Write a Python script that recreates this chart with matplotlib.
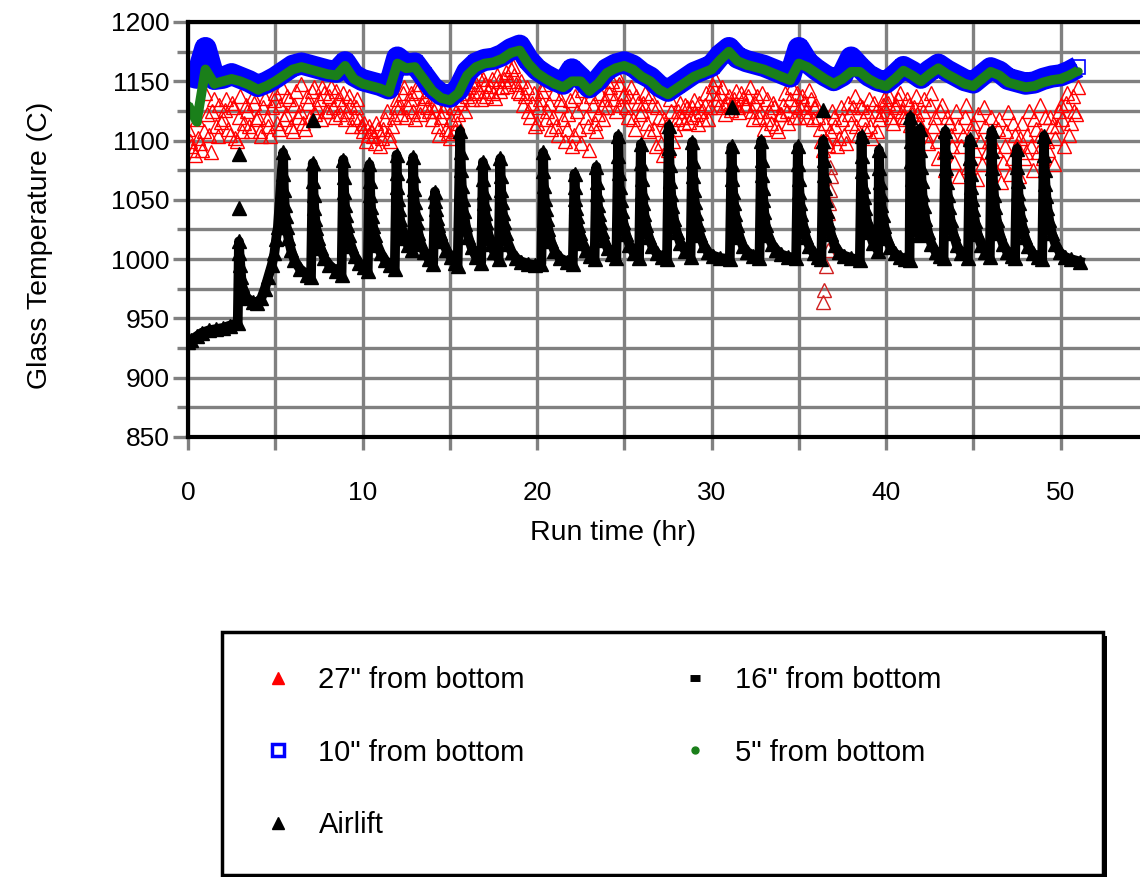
import numpy as np
import matplotlib
matplotlib.use("Agg")
import matplotlib.pyplot as plt
from matplotlib.lines import Line2D
from matplotlib.patches import Rectangle

plt.rcParams['font.family'] = ['Liberation Sans', 'DejaVu Sans']

# 10" and 5" thermocouples, read every 0.5 hr from 0 to 51 hr
upper_step = 0.5
blue_v = [
    1155, 1153, 1178, 1152, 1153, 1156, 1153, 1150, 1146, 1149,
    1153, 1158, 1163, 1165, 1163, 1161, 1159, 1158, 1166, 1155,
    1151, 1149, 1147, 1144, 1170, 1164, 1165, 1155, 1145, 1139,
    1137, 1143, 1158, 1165, 1168, 1169, 1172, 1177, 1180, 1168,
    1160, 1155, 1151, 1148, 1160, 1153, 1145, 1151, 1160, 1164,
    1166, 1163, 1157, 1153, 1146, 1142, 1147, 1152, 1157, 1160,
    1163, 1172, 1178, 1170, 1167, 1165, 1163, 1160, 1157, 1154,
    1178, 1166, 1160, 1155, 1151, 1155, 1170, 1162, 1155, 1151,
    1149, 1155, 1162, 1158, 1153, 1159, 1164, 1159, 1155, 1151,
    1149, 1155, 1161, 1158, 1152, 1150, 1148, 1149, 1152, 1154,
    1155, 1158, 1162,
]
green_v = [
    1130, 1116, 1160, 1148, 1150, 1152, 1150, 1147, 1143, 1146,
    1150, 1155, 1160, 1162, 1160, 1158, 1156, 1155, 1163, 1152,
    1148, 1146, 1144, 1141, 1165, 1161, 1162, 1152, 1142, 1136,
    1134, 1140, 1155, 1162, 1165, 1166, 1169, 1174, 1176, 1165,
    1157, 1152, 1148, 1145, 1150, 1150, 1142, 1148, 1157, 1161,
    1163, 1160, 1154, 1150, 1143, 1139, 1144, 1149, 1154, 1157,
    1160, 1168, 1175, 1167, 1164, 1162, 1160, 1157, 1154, 1151,
    1165, 1162, 1157, 1152, 1148, 1152, 1158, 1158, 1152, 1148,
    1146, 1152, 1159, 1155, 1150, 1156, 1161, 1156, 1152, 1148,
    1146, 1152, 1158, 1155, 1149, 1147, 1145, 1146, 1149, 1151,
    1152, 1155, 1159,
]

# 27" thermocouple, read every 0.2 hr (two interleaved logs)
red_step = 0.2
red_v = [
    1110, 1095, 1088, 1102, 1092, 1140, 1105, 1125, 1112, 1130,
    1118, 1135, 1105, 1128, 1100, 1138, 1115, 1125, 1108, 1132,
    1120, 1104, 1136, 1112, 1128, 1140, 1110, 1145, 1122, 1135,
    1108, 1142, 1125, 1115, 1138, 1120, 1145, 1128, 1118, 1140,
    1125, 1145, 1120, 1135, 1130, 1118, 1138, 1112, 1128, 1118,
    1108, 1100, 1112, 1104, 1115, 1095, 1110, 1125, 1100, 1120,
    1135, 1122, 1145, 1128, 1140, 1118, 1148, 1130, 1138, 1125,
    1118, 1130, 1105, 1125, 1110, 1102, 1128, 1115, 1132, 1140,
    1138, 1150, 1140, 1155, 1135, 1148, 1142, 1152, 1136, 1150,
    1145, 1158, 1150, 1163, 1148, 1140, 1130, 1145, 1120, 1140,
    1115, 1135, 1148, 1125, 1110, 1140, 1105, 1130, 1100, 1122,
    1095, 1138, 1110, 1143, 1120, 1092, 1130, 1108, 1140, 1118,
    1128, 1145, 1135, 1155, 1130, 1140, 1120, 1145, 1110, 1132,
    1125, 1140, 1108, 1130, 1095, 1120, 1088, 1112, 1135, 1100,
    1118, 1132, 1115, 1128, 1120, 1134, 1114, 1125, 1130, 1118,
    1140, 1152, 1128, 1145, 1122, 1138, 1130, 1142, 1124, 1136,
    1130, 1145, 1118, 1138, 1125, 1110, 1135, 1115, 1128, 1108,
    1122, 1140, 1115, 1145, 1130, 1120, 1138, 1125, 1143, 1118,
    1130, 1110, 1092, 1100, 1108, 1120, 1095, 1128, 1105, 1132,
    1115, 1138, 1105, 1128, 1110, 1135, 1102, 1125, 1118, 1130,
    1125, 1138, 1115, 1130, 1140, 1120, 1135, 1113, 1128, 1122,
    1110, 1135, 1098, 1140, 1120, 1085, 1130, 1075, 1115, 1095,
    1125, 1070, 1105, 1130, 1085, 1115, 1068, 1100, 1128, 1090,
    1120, 1078, 1110, 1065, 1095, 1124, 1085, 1105, 1070, 1115,
    1090, 1125, 1075, 1110, 1130, 1085, 1100, 1120, 1080, 1112,
    1130, 1095, 1140, 1115, 1125, 1145,
]
red_v2 = [
    1100, 1092, 1118, 1098, 1108, 1122, 1090, 1135, 1104, 1116,
    1126, 1110, 1132, 1102, 1120, 1108, 1130, 1112, 1138, 1118,
    1108, 1128, 1118, 1104, 1134, 1115, 1130, 1118, 1138, 1112,
    1130, 1120, 1148, 1110, 1132, 1142, 1122, 1135, 1145, 1125,
    1138, 1128, 1142, 1122, 1140, 1125, 1130, 1120, 1135, 1112,
    1115, 1105, 1108, 1098, 1110, 1102, 1118, 1105, 1112, 1128,
    1128, 1140, 1120, 1135, 1125, 1142, 1122, 1136, 1128, 1142,
    1125, 1112, 1120, 1130, 1106, 1118, 1108, 1122, 1135, 1125,
    1145, 1135, 1148, 1142, 1152, 1138, 1146, 1140, 1155, 1142,
    1152, 1146, 1160, 1155, 1142, 1150, 1138, 1125, 1132, 1112,
    1128, 1142, 1118, 1132, 1120, 1112, 1135, 1118, 1110, 1134,
    1105, 1125, 1098, 1132, 1112, 1138, 1115, 1122, 1128, 1135,
    1140, 1150, 1125, 1148, 1138, 1128, 1138, 1118, 1138, 1122,
    1132, 1115, 1138, 1110, 1128, 1098, 1118, 1092, 1125, 1110,
    1125, 1120, 1130, 1116, 1128, 1122, 1132, 1118, 1140, 1128,
    1146, 1135, 1140, 1130, 1132, 1126, 1135, 1128, 1140, 1130,
    1138, 1125, 1132, 1120, 1140, 1118, 1125, 1132, 1112, 1122,
    1130, 1125, 1135, 1120, 1140, 1128, 1132, 1120, 1135, 1128,
    1120, 1100, 1115, 1096, 1125, 1112, 1102, 1118, 1098, 1122,
    1128, 1112, 1130, 1118, 1125, 1112, 1132, 1108, 1122, 1135,
    1132, 1120, 1128, 1135, 1125, 1118, 1130, 1122, 1138, 1115,
    1125, 1105, 1130, 1112, 1100, 1125, 1090, 1120, 1105, 1082,
    1112, 1095, 1120, 1078, 1108, 1092, 1122, 1080, 1112, 1100,
    1100, 1092, 1118, 1082, 1108, 1072, 1115, 1095, 1102, 1085,
    1105, 1095, 1118, 1090, 1105, 1120, 1092, 1112, 1102, 1125,
    1118, 1132, 1105, 1138, 1122,
]
# short drop of the 27" reading near 36.5 hr
red_drop_t = [36.8, 36.85, 36.8, 36.75, 36.65, 36.7, 36.7, 36.55, 36.45, 36.4]
red_drop_v = [1078, 1070, 1058, 1047, 1039, 1022, 1008, 994, 974, 964]

# Airlift: warm-up, then one sawtooth cycle per row
airlift_t = [
    0.0, 0.2, 0.5, 0.8, 1.2, 1.6, 2.0, 2.4, 2.85,
    2.92, 2.95, 3.0, 3.05, 3.1, 3.2, 3.4, 3.7, 3.95, 4.2, 4.4, 4.6, 4.8, 4.95, 5.05, 5.15,
    5.45, 5.47, 5.5, 5.54, 5.59, 5.65, 5.75, 5.9, 6.1, 6.4, 6.8, 7.05,
    7.15, 7.17, 7.2, 7.24, 7.29, 7.35, 7.45, 7.6, 7.8, 8.1, 8.5, 8.8,
    8.9, 8.92, 8.95, 8.99, 9.04, 9.1, 9.2, 9.35, 9.55, 9.8, 10.1, 10.3,
    10.4, 10.42, 10.45, 10.49, 10.54, 10.6, 10.7, 10.85, 11.05, 11.3, 11.6, 11.85,
    11.95, 11.97, 12.0, 12.04, 12.09, 12.15, 12.25, 12.4, 12.6, 12.85,
    12.9, 12.92, 12.95, 12.99, 13.04, 13.1, 13.2, 13.35, 13.55, 13.8, 14.05,
    14.15, 14.18, 14.22, 14.27, 14.34, 14.45, 14.6, 14.8, 15.05, 15.3, 15.45,
    15.6, 15.62, 15.65, 15.69, 15.74, 15.8, 15.9, 16.05, 16.25, 16.5, 16.8,
    16.9, 16.92, 16.95, 16.99, 17.04, 17.1, 17.2, 17.35, 17.55, 17.8,
    17.9, 17.92, 17.95, 17.99, 18.04, 18.1, 18.2, 18.35, 18.55, 18.8, 19.1, 19.5, 19.9, 20.25,
    20.35, 20.37, 20.4, 20.44, 20.49, 20.55, 20.65, 20.8, 21.0, 21.3, 21.7, 22.05,
    22.15, 22.17, 22.2, 22.24, 22.29, 22.35, 22.45, 22.6, 22.8, 23.05, 23.3,
    23.4, 23.42, 23.45, 23.49, 23.54, 23.6, 23.7, 23.85, 24.05, 24.3, 24.55,
    24.65, 24.67, 24.7, 24.74, 24.79, 24.85, 24.95, 25.1, 25.3, 25.55, 25.85,
    25.95, 25.97, 26.0, 26.04, 26.09, 26.15, 26.25, 26.4, 26.6, 26.85, 27.15, 27.45,
    27.55, 27.57, 27.6, 27.64, 27.69, 27.75, 27.85, 28.0, 28.2, 28.5, 28.8,
    28.9, 28.92, 28.95, 28.99, 29.04, 29.1, 29.2, 29.35, 29.55, 29.8, 30.1, 30.5, 31.05,
    31.15, 31.17, 31.2, 31.24, 31.29, 31.35, 31.45, 31.6, 31.8, 32.05, 32.4, 32.75,
    32.85, 32.87, 32.9, 32.93, 32.97, 33.02, 33.1, 33.25, 33.45, 33.7, 34.0, 34.4, 34.85,
    34.95, 34.97, 35.0, 35.04, 35.09, 35.15, 35.25, 35.4, 35.6, 35.85, 36.1, 36.3,
    36.4, 36.42, 36.45, 36.49, 36.54, 36.6, 36.7, 36.85, 37.05, 37.3, 37.6, 38.0, 38.5,
    38.6, 38.62, 38.65, 38.69, 38.74, 38.8, 38.9, 39.05, 39.25, 39.55,
    39.6, 39.62, 39.65, 39.69, 39.74, 39.8, 39.9, 40.05, 40.25, 40.5, 40.8, 41.1, 41.35,
    41.4, 41.42, 41.45, 41.5, 41.56, 41.63, 41.72, 41.82, 41.9,
    41.95, 41.97, 42.0, 42.04, 42.09, 42.15, 42.25, 42.4, 42.6, 42.85, 43.1, 43.3,
    43.4, 43.42, 43.45, 43.49, 43.54, 43.6, 43.7, 43.85, 44.05, 44.3, 44.7,
    44.8, 44.82, 44.85, 44.89, 44.94, 45.0, 45.1, 45.25, 45.45, 45.7, 45.95,
    46.05, 46.07, 46.1, 46.14, 46.19, 46.25, 46.35, 46.5, 46.7, 46.95, 47.2, 47.4,
    47.5, 47.52, 47.55, 47.59, 47.64, 47.7, 47.8, 47.95, 48.15, 48.4, 48.7, 48.95,
    49.05, 49.07, 49.1, 49.14, 49.19, 49.25, 49.35, 49.5, 49.7, 49.95, 50.25, 50.6, 51.1,
]
airlift_v = [
    930, 932, 935, 938, 940, 941, 942, 944, 946,
    1015, 1005, 995, 985, 978, 972, 967, 964, 963, 967, 975, 985, 995, 1005, 1017, 1027,
    1090, 1072, 1058, 1046, 1036, 1027, 1018, 1008, 999, 992, 987, 985,
    1081, 1066, 1054, 1043, 1034, 1026, 1018, 1009, 1001, 995, 990, 987,
    1084, 1069, 1057, 1046, 1037, 1029, 1020, 1011, 1003, 997, 993, 990,
    1080, 1066, 1054, 1044, 1036, 1028, 1020, 1012, 1005, 999, 995, 992,
    1088, 1073, 1061, 1051, 1042, 1034, 1026, 1018, 1012, 1008,
    1086, 1071, 1059, 1048, 1039, 1031, 1022, 1013, 1006, 1000, 996,
    1057, 1049, 1042, 1035, 1029, 1022, 1015, 1008, 1002, 997, 994,
    1108, 1090, 1075, 1062, 1051, 1041, 1030, 1019, 1010, 1002, 997,
    1082, 1068, 1057, 1047, 1039, 1031, 1022, 1013, 1006, 1000,
    1085, 1070, 1058, 1048, 1039, 1031, 1022, 1013, 1006, 1001, 998, 996, 995, 996,
    1090, 1074, 1062, 1051, 1042, 1034, 1025, 1015, 1007, 1001, 998, 996,
    1072, 1061, 1051, 1043, 1036, 1029, 1022, 1014, 1008, 1003, 1000,
    1078, 1065, 1055, 1046, 1038, 1031, 1024, 1016, 1009, 1004, 1001,
    1104, 1087, 1073, 1061, 1050, 1041, 1031, 1021, 1012, 1005, 1001,
    1097, 1081, 1068, 1057, 1047, 1038, 1029, 1019, 1011, 1005, 1002, 1000,
    1112, 1094, 1079, 1066, 1055, 1045, 1034, 1023, 1014, 1007, 1002,
    1099, 1083, 1070, 1058, 1048, 1039, 1030, 1020, 1012, 1006, 1003, 1001, 1000,
    1095, 1080, 1068, 1057, 1047, 1038, 1029, 1019, 1011, 1006, 1003, 1001,
    1100, 1084, 1071, 1060, 1050, 1040, 1029, 1020, 1013, 1008, 1004, 1002, 1001,
    1095, 1080, 1068, 1057, 1047, 1038, 1029, 1019, 1011, 1005, 1002, 1000,
    1100, 1084, 1071, 1060, 1050, 1041, 1031, 1021, 1012, 1006, 1003, 1001, 999,
    1104, 1087, 1074, 1062, 1052, 1043, 1033, 1023, 1014, 1007,
    1092, 1077, 1065, 1055, 1046, 1037, 1028, 1018, 1010, 1005, 1002, 1000, 999,
    1120, 1100, 1083, 1068, 1055, 1044, 1034, 1026, 1020,
    1110, 1092, 1078, 1066, 1055, 1045, 1034, 1023, 1013, 1006, 1003, 1001,
    1108, 1091, 1077, 1065, 1054, 1044, 1033, 1022, 1012, 1005, 1001,
    1101, 1085, 1072, 1061, 1051, 1042, 1032, 1021, 1012, 1006, 1002,
    1108, 1091, 1077, 1065, 1054, 1044, 1033, 1022, 1013, 1006, 1003, 1001,
    1093, 1078, 1066, 1056, 1047, 1038, 1029, 1019, 1011, 1005, 1002, 1000,
    1104, 1088, 1075, 1063, 1053, 1043, 1033, 1022, 1013, 1006, 1002, 1000, 998,
]
# single airlift readings standing apart from the cycles
airlift_iso_t = [2.9, 2.9, 7.15, 31.15, 36.4]
airlift_iso_v = [1089, 1043, 1117, 1128, 1126]

x_ticks = [0, 10, 20, 30, 40, 50]
x_minor = [5, 15, 25, 35, 45]
y_ticks = [850, 900, 950, 1000, 1050, 1100, 1150, 1200]
y_minor = [875, 925, 975, 1025, 1075, 1125, 1175]
series_labels = ['27" from bottom', '10" from bottom', 'Airlift', '16" from bottom', '5" from bottom']

upper_t = np.arange(len(blue_v)) * upper_step
red_t = np.arange(len(red_v)) * red_step
red_t2 = red_step / 2 + np.arange(len(red_v2)) * red_step

fig = plt.figure(figsize=(11.4, 8.77), dpi=100)
ax = fig.add_axes([188 / 1140, 440 / 877, 959.75 / 1140, 415 / 877])

# 27" (open red triangles)
red_style = dict(ls='none', marker='^', mfc='none', mec='red', ms=10, mew=1)
ax.plot(red_t, red_v, **red_style)
ax.plot(red_t2, red_v2, **red_style)
ax.plot(red_drop_t, red_drop_v, ls='none', marker='^', mfc='none', mec='#d02020', ms=10, mew=1)

# 10" (blue squares) and 5" (green dots)
ax.plot(upper_t, blue_v, color='#0000ff', lw=16, solid_joinstyle='round', solid_capstyle='butt')
ax.plot(upper_t, blue_v, ls='none', marker='s', mfc='none', mec='#0000ff', ms=10, mew=1.2)
ax.plot(upper_t, green_v, color='#1a7f1a', lw=7, solid_joinstyle='round', solid_capstyle='butt')
ax.plot(upper_t, green_v, ls='none', marker='o', color='#1a7f1a', ms=5)

# Airlift (black triangles)
ax.plot(airlift_t, airlift_v, color='black', lw=7, marker='^', ms=10)
ax.plot(airlift_iso_t, airlift_iso_v, ls='none', color='black', marker='^', ms=10)

ax.set_xlim(0, 55)
ax.set_ylim(850, 1200)
ax.set_xticks(x_ticks)
ax.set_xticks(x_minor, minor=True)
ax.set_yticks(y_ticks)
ax.set_yticks(y_minor, minor=True)
ax.set_axisbelow(True)
ax.grid(True, which='both', color='#808080', lw=2.4)
ax.tick_params(which='both', color='#808080', width=2.4, direction='out')
ax.tick_params(axis='y', which='major', length=11, pad=2, labelsize=19)
ax.tick_params(axis='y', which='minor', length=8)
ax.tick_params(axis='x', which='both', length=9)
ax.tick_params(axis='x', which='major', pad=23, labelsize=19)
for side in ['top', 'bottom', 'left']:
    ax.spines[side].set_color('black')
    ax.spines[side].set_linewidth(3)
ax.spines['right'].set_visible(False)

fig.text(613 / 1140, 1 - 533 / 877, 'Run time (hr)', ha='center', va='center', fontsize=20.5)
fig.text(40 / 1140, 1 - 245 / 877, 'Glass Temperature (C)', rotation=90,
         ha='center', va='center', fontsize=20.5)

# legend box with a drop shadow
fig.add_artist(Rectangle((226 / 1140, 1 - 879 / 877), 881 / 1140, 243 / 877,
                         transform=fig.transFigure, facecolor='black', edgecolor='none', zorder=1))
fig.add_artist(Rectangle((222 / 1140, 1 - 875 / 877), 881 / 1140, 243 / 877,
                         transform=fig.transFigure, facecolor='white', edgecolor='black',
                         lw=2.5, zorder=2))

handles = [
    Line2D([], [], ls='none', marker='^', color='red', ms=8),
    Line2D([], [], ls='none', marker='s', mfc='white', mec='#0000ff', mew=2.5, ms=8),
    Line2D([], [], ls='none', marker='^', color='black', ms=8),
    Line2D([], [], ls='none', marker='_', color='black', ms=7, mew=5),
    Line2D([], [], ls='none', marker='o', color='#1a7f1a', ms=5),
]
leg = fig.legend(handles, series_labels, loc='upper left', bbox_to_anchor=(254 / 1140, 1 - 666 / 877),
                 ncol=2, frameon=False, fontsize=21, handlelength=1.66, handletextpad=0.55,
                 columnspacing=5.0, labelspacing=1.53, borderpad=0, borderaxespad=0)
leg.set_zorder(5)

fig.savefig('out.png', dpi=100)
